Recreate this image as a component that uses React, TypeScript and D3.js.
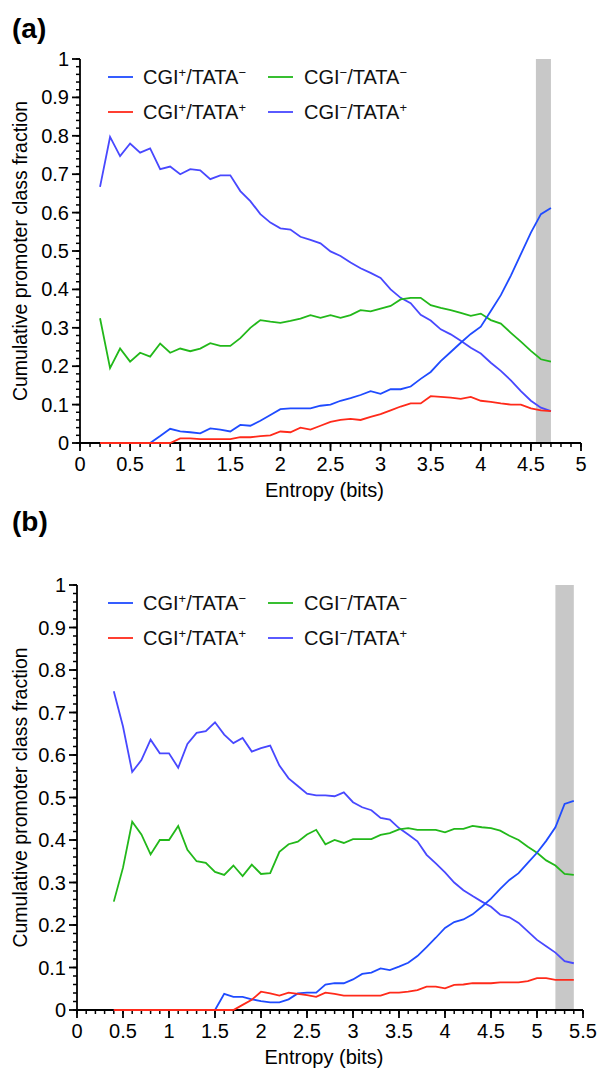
import * as d3 from "d3";

// entropy bins (bits)
const entropyA = [0.2, 0.3, 0.4, 0.5, 0.6, 0.7, 0.8, 0.9, 1.0, 1.1, 1.2, 1.3, 1.4, 1.5, 1.6, 1.7, 1.8, 1.9, 2.0, 2.1, 2.2, 2.3, 2.4, 2.5, 2.6, 2.7, 2.8, 2.9, 3.0, 3.1, 3.2, 3.3, 3.4, 3.5, 3.6, 3.7, 3.8, 3.9, 4.0, 4.1, 4.2, 4.3, 4.4, 4.5, 4.6, 4.7];
const entropyB = [0.4, 0.5, 0.6, 0.7, 0.8, 0.9, 1.0, 1.1, 1.2, 1.3, 1.4, 1.5, 1.6, 1.7, 1.8, 1.9, 2.0, 2.1, 2.2, 2.3, 2.4, 2.5, 2.6, 2.7, 2.8, 2.9, 3.0, 3.1, 3.2, 3.3, 3.4, 3.5, 3.6, 3.7, 3.8, 3.9, 4.0, 4.1, 4.2, 4.3, 4.4, 4.5, 4.6, 4.7, 4.8, 4.9, 5.0, 5.1, 5.2, 5.3, 5.4];

// panel (a)
const posNegA = [0, 0, 0, 0, 0, 0, 0.018, 0.037, 0.03, 0.028, 0.025, 0.038, 0.035, 0.03, 0.047, 0.045, 0.058, 0.073, 0.088, 0.09, 0.09, 0.09, 0.097, 0.1, 0.11, 0.117, 0.125, 0.135, 0.128, 0.14, 0.14, 0.147, 0.167, 0.185, 0.213, 0.237, 0.261, 0.284, 0.303, 0.344, 0.385, 0.436, 0.492, 0.548, 0.596, 0.612];
const posPosA = [0, 0, 0, 0, 0, 0, 0, 0, 0.012, 0.012, 0.01, 0.01, 0.01, 0.01, 0.015, 0.015, 0.018, 0.02, 0.03, 0.028, 0.04, 0.035, 0.045, 0.055, 0.06, 0.063, 0.06, 0.068, 0.075, 0.085, 0.095, 0.103, 0.103, 0.122, 0.12, 0.118, 0.115, 0.12, 0.11, 0.107, 0.103, 0.1, 0.1, 0.09, 0.085, 0.083];
const negNegA = [0.325, 0.195, 0.246, 0.212, 0.235, 0.225, 0.259, 0.235, 0.246, 0.239, 0.246, 0.26, 0.253, 0.253, 0.273, 0.3, 0.32, 0.316, 0.313, 0.318, 0.324, 0.333, 0.326, 0.333, 0.326, 0.333, 0.346, 0.343, 0.35, 0.357, 0.374, 0.378, 0.378, 0.359, 0.352, 0.346, 0.339, 0.331, 0.337, 0.32, 0.311, 0.287, 0.264, 0.24, 0.218, 0.212];
const negPosA = [0.667, 0.797, 0.747, 0.78, 0.756, 0.767, 0.713, 0.72, 0.7, 0.713, 0.71, 0.687, 0.697, 0.697, 0.656, 0.63, 0.596, 0.574, 0.559, 0.556, 0.537, 0.529, 0.52, 0.499, 0.487, 0.47, 0.455, 0.443, 0.43, 0.4, 0.378, 0.364, 0.334, 0.319, 0.296, 0.283, 0.266, 0.248, 0.233, 0.209, 0.188, 0.163, 0.135, 0.11, 0.092, 0.083];

// panel (b)
const posNegB = [0, 0, 0, 0, 0, 0, 0, 0, 0, 0, 0, 0, 0.038, 0.031, 0.031, 0.025, 0.021, 0.018, 0.018, 0.025, 0.039, 0.041, 0.041, 0.06, 0.063, 0.063, 0.072, 0.085, 0.088, 0.098, 0.094, 0.102, 0.111, 0.127, 0.148, 0.17, 0.193, 0.207, 0.213, 0.225, 0.243, 0.262, 0.285, 0.306, 0.322, 0.346, 0.37, 0.398, 0.43, 0.485, 0.492];
const posPosB = [0, 0, 0, 0, 0, 0, 0, 0, 0, 0, 0, 0, 0, 0, 0.012, 0.024, 0.043, 0.039, 0.034, 0.041, 0.038, 0.035, 0.031, 0.041, 0.038, 0.034, 0.034, 0.034, 0.034, 0.034, 0.041, 0.041, 0.043, 0.047, 0.055, 0.055, 0.051, 0.059, 0.06, 0.063, 0.063, 0.063, 0.065, 0.065, 0.065, 0.068, 0.075, 0.075, 0.071, 0.071, 0.071];
const negNegB = [0.255, 0.335, 0.443, 0.413, 0.366, 0.4, 0.4, 0.433, 0.377, 0.35, 0.346, 0.325, 0.318, 0.34, 0.315, 0.342, 0.32, 0.322, 0.372, 0.39, 0.396, 0.413, 0.424, 0.39, 0.4, 0.393, 0.402, 0.402, 0.402, 0.412, 0.416, 0.425, 0.428, 0.424, 0.424, 0.424, 0.418, 0.426, 0.426, 0.433, 0.43, 0.428, 0.422, 0.41, 0.4, 0.384, 0.37, 0.352, 0.34, 0.32, 0.318];
const negPosB = [0.75, 0.667, 0.56, 0.588, 0.636, 0.604, 0.604, 0.57, 0.626, 0.652, 0.656, 0.677, 0.648, 0.628, 0.64, 0.608, 0.616, 0.622, 0.575, 0.545, 0.527, 0.509, 0.505, 0.505, 0.503, 0.512, 0.489, 0.477, 0.47, 0.452, 0.448, 0.428, 0.413, 0.397, 0.365, 0.345, 0.324, 0.3, 0.282, 0.268, 0.255, 0.243, 0.224, 0.218, 0.205, 0.185, 0.165, 0.15, 0.135, 0.115, 0.11];

const yTicks = [0, 0.1, 0.2, 0.3, 0.4, 0.5, 0.6, 0.7, 0.8, 0.9, 1];
const xTicksA = [0, 0.5, 1, 1.5, 2, 2.5, 3, 3.5, 4, 4.5, 5];
const xTicksB = [0, 0.5, 1, 1.5, 2, 2.5, 3, 3.5, 4, 4.5, 5, 5.5];

const BLUE = "#1f4bff";
const LIGHT_BLUE = "#4848ff";
const GREEN = "#22b81a";
const RED = "#ff2a1a";
const FONT = "'Liberation Sans', Arial, Helvetica, sans-serif";

function Label(props) {
  // CGI±/TATA± with small superscripts
  const sup = { fontSize: 13 };
  return (
    <text x={props.x} y={props.y} fontSize="20" fontFamily={FONT} fill="#111">
      CGI<tspan dy="-7" style={sup}>{props.a}</tspan>
      <tspan dy="7">/TATA</tspan>
      <tspan dy="-7" style={sup}>{props.b}</tspan>
    </text>
  );
}

function Panel(props) {
  const { top, tagY, xMax, xRange, yRange, entropy, series, band, tag, xTicks } = props;
  const xScale = d3.scaleLinear().domain([0, xMax]).range(xRange);
  const yScale = d3.scaleLinear().domain([0, 1]).range(yRange);
  const x0 = xRange[0];
  const y0 = yRange[0];

  const line = (vals) =>
    d3.line()
      .x((d, i) => xScale(entropy[i]))
      .y((d) => yScale(d))(vals);

  const minorY = d3.range(0, 101, 2).map((v) => v / 100);
  const minorX = d3.range(0, Math.round(xMax * 10) + 1).map((v) => v / 10);

  const legendX1 = 108;
  const legendX2 = 268;
  const row1 = top + 18;
  const row2 = top + 53;

  return (
    <g>
      <text x="12" y={tagY} fontSize="28" fontWeight="bold" fontFamily={FONT}>{tag}</text>

      {/* grey band */}
      <rect x={xScale(band[0])} y={yScale(1)} width={xScale(band[1]) - xScale(band[0])} height={yScale(0) - yScale(1)} fill="#c8c8c8" />

      {/* y axis */}
      <line x1={x0} x2={x0} y1={yScale(0)} y2={yScale(1)} stroke="black" strokeWidth="1.8" />
      {minorY.map((v, i) => (
        <line key={"my" + i} x1={x0 - 4} x2={x0} y1={yScale(v)} y2={yScale(v)} stroke="black" strokeWidth="1.5" />
      ))}
      {yTicks.map((v, i) => (
        <g key={"y" + i}>
          <line x1={x0 - 8} x2={x0} y1={yScale(v)} y2={yScale(v)} stroke="black" strokeWidth="1.8" />
          <text x={x0 - 11} y={yScale(v) + 7} textAnchor="end" fontSize="20" fontFamily={FONT}>{String(v)}</text>
        </g>
      ))}

      {/* x axis */}
      <line x1={x0} x2={xRange[1]} y1={y0} y2={y0} stroke="black" strokeWidth="1.8" />
      {minorX.map((v, i) => (
        <line key={"mx" + i} x1={xScale(v)} x2={xScale(v)} y1={y0} y2={y0 + 4} stroke="black" strokeWidth="1.5" />
      ))}
      {xTicks.map((v, i) => (
        <g key={"x" + i}>
          <line x1={xScale(v)} x2={xScale(v)} y1={y0} y2={y0 + 8} stroke="black" strokeWidth="1.8" />
          <text x={xScale(v)} y={y0 + 28} textAnchor="middle" fontSize="20" fontFamily={FONT}>{String(v)}</text>
        </g>
      ))}
      <text x={(xRange[0] + xRange[1]) / 2 - 6} y={y0 + 54} textAnchor="middle" fontSize="20" fontFamily={FONT}>Entropy (bits)</text>
      <text transform={`translate(27,${(yRange[0] + yRange[1]) / 2}) rotate(-90)`} textAnchor="middle" fontSize="19.5" fontFamily={FONT}>Cumulative promoter class fraction</text>

      {/* lines, over the axes so the red zero stretch shows */}
      <path d={line(series.negPos)} fill="none" stroke={LIGHT_BLUE} strokeWidth="1.8" />
      <path d={line(series.negNeg)} fill="none" stroke={GREEN} strokeWidth="1.8" />
      <path d={line(series.posNeg)} fill="none" stroke={BLUE} strokeWidth="1.8" />
      <path d={line(series.posPos)} fill="none" stroke={RED} strokeWidth="1.8" />

      {/* legend */}
      <line x1={legendX1} x2={legendX1 + 25} y1={row1} y2={row1} stroke={BLUE} strokeWidth="1.8" />
      <Label x={143} y={row1 + 7} a="+" b="−" />
      <line x1={legendX1} x2={legendX1 + 25} y1={row2} y2={row2} stroke={RED} strokeWidth="1.8" />
      <Label x={143} y={row2 + 7} a="+" b="+" />
      <line x1={legendX2} x2={legendX2 + 25} y1={row1} y2={row1} stroke={GREEN} strokeWidth="1.8" />
      <Label x={304} y={row1 + 7} a="−" b="−" />
      <line x1={legendX2} x2={legendX2 + 25} y1={row2} y2={row2} stroke={LIGHT_BLUE} strokeWidth="1.8" />
      <Label x={304} y={row2 + 7} a="−" b="+" />
    </g>
  );
}

export default function App() {
  return (
    <svg width={600} height={1084} style={{ position: "absolute", left: 0, top: 0, background: "white" }}>
      <Panel
        tag="(a)" tagY={38} top={59} xMax={5} xRange={[80, 581]} yRange={[443, 59]}
        entropy={entropyA} xTicks={xTicksA} band={[4.55, 4.7]}
        series={{ posNeg: posNegA, posPos: posPosA, negNeg: negNegA, negPos: negPosA }}
      />
      <Panel
        tag="(b)" tagY={531} top={585} xMax={5.5} xRange={[77, 583]} yRange={[1010, 585]}
        entropy={entropyB} xTicks={xTicksB} band={[5.2, 5.4]}
        series={{ posNeg: posNegB, posPos: posPosB, negNeg: negNegB, negPos: negPosB }}
      />
    </svg>
  );
}
